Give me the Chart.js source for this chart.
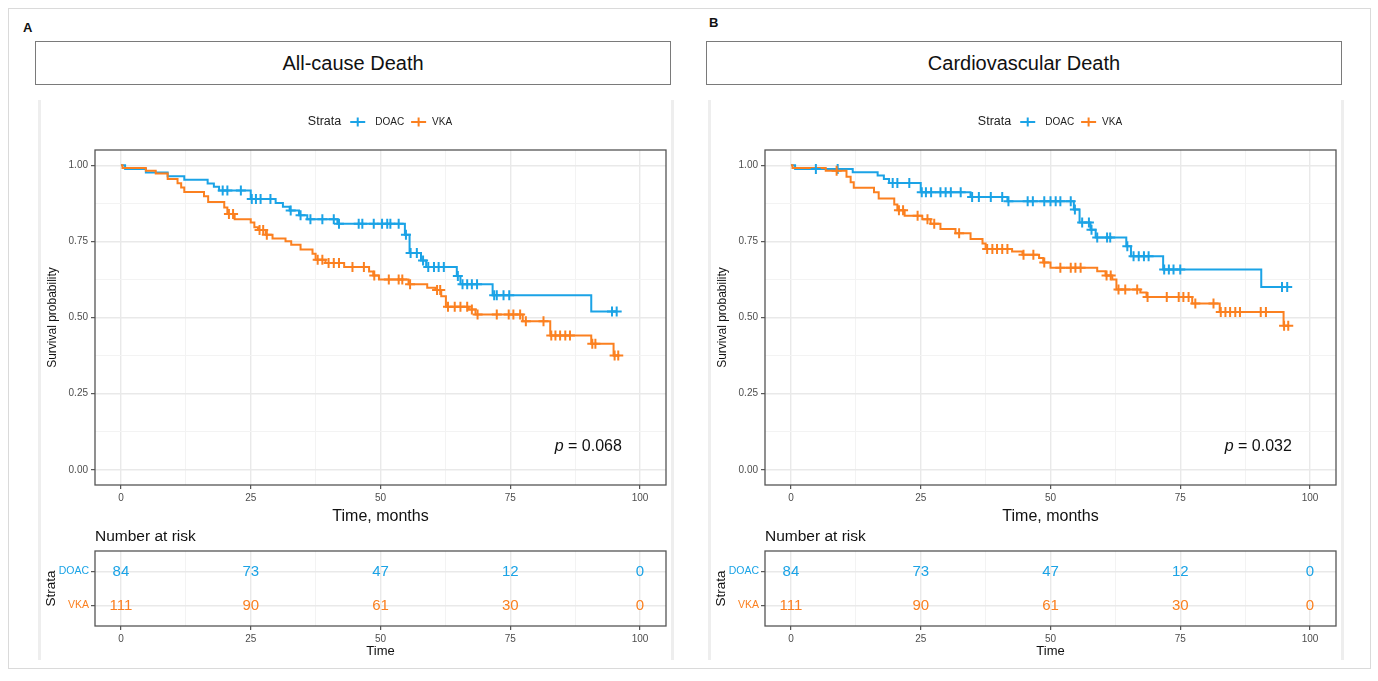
<!DOCTYPE html>
<meta charset="utf-8">
<title>Kaplan-Meier: DOAC vs VKA</title>
<style>
  body { margin: 0; width: 1378px; height: 681px; position: relative; background: #fff; overflow: hidden;
         font-family: "Liberation Sans", Arial, sans-serif }
  .frame { position: absolute; left: 8px; top: 8px; width: 1361px; height: 659px; border: 1px solid #dadada }
  .tag { position: absolute; font-weight: bold; font-size: 13px; color: #111 }
  .head { position: absolute; top: 41px; width: 634px; height: 42px; border: 1.5px solid #7a7a7a;
          font-size: 20px; line-height: 42px; text-align: center; color: #111 }
  .edge { position: absolute; top: 100px; height: 560px; width: 3px; background: #eeeeee }
  canvas { position: absolute }
</style>
<div class="frame"></div>
<div class="tag" style="left:23px;top:20px">A</div>
<div class="tag" style="left:709px;top:15px">B</div>
<div class="head" style="left:35px">All-cause Death</div>
<div class="head" style="left:706px">Cardiovascular Death</div>
<div class="edge" style="left:38px"></div>
<div class="edge" style="left:671px"></div>
<div class="edge" style="left:708px"></div>
<div class="edge" style="left:1341px"></div>
<canvas id="kmA" width="640" height="430" style="left:30px;top:100px"></canvas>
<canvas id="riskA" width="640" height="145" style="left:30px;top:525px"></canvas>
<canvas id="kmB" width="640" height="430" style="left:700px;top:100px"></canvas>
<canvas id="riskB" width="640" height="145" style="left:700px;top:525px"></canvas>
<script src="https://cdn.jsdelivr.net/npm/chart.js@4"></script>
<script>
  const xTicks = [0, 12.5, 25, 37.5, 50, 62.5, 75, 87.5, 100]
  const yTicks = [0, 0.125, 0.25, 0.375, 0.5, 0.625, 0.75, 0.875, 1]
  const strata = ["DOAC", "VKA"]

  // All-cause death: event times (months) -> survival after the drop, censor times
  const acDoacTime = [0.8, 4.8, 9.0, 12.2, 16.7, 17.9, 18.9, 25.0, 29.8, 31.2, 32.5, 34.3, 35.9, 41.7, 54.7, 55.6, 57.8, 58.8, 64.7, 65.4, 71.6, 90.6]
  const acDoacSurv = [0.988, 0.976, 0.964, 0.952, 0.940, 0.929, 0.917, 0.889, 0.876, 0.864, 0.851, 0.836, 0.823, 0.808, 0.772, 0.712, 0.687, 0.666, 0.636, 0.609, 0.573, 0.520]
  const acDoacCens = [19.6, 20.5, 23.1, 25.2, 26.0, 26.9, 28.8, 32.7, 34.6, 36.5, 38.8, 41.0, 42.0, 45.8, 46.5, 48.7, 50.3, 51.3, 51.9, 53.5, 54.9, 55.8, 57.0, 58.2, 59.2, 60.3, 61.2, 62.2, 64.9, 65.8, 66.7, 67.6, 68.6, 71.9, 72.4, 73.7, 74.8, 94.6, 95.5]

  const acVkaTime = [0.3, 4.8, 6.7, 9.0, 10.9, 11.6, 12.2, 16.0, 16.8, 19.9, 20.5, 21.9, 25.0, 25.7, 26.4, 27.9, 29.2, 31.7, 32.8, 34.6, 36.9, 37.5, 39.4, 43.0, 47.8, 48.6, 49.7, 55.4, 59.0, 60.6, 61.7, 62.6, 67.0, 68.3, 77.4, 82.7, 90.6, 94.9]
  const acVkaSurv = [0.991, 0.982, 0.973, 0.955, 0.941, 0.927, 0.912, 0.898, 0.879, 0.861, 0.840, 0.823, 0.812, 0.796, 0.787, 0.772, 0.759, 0.750, 0.739, 0.723, 0.709, 0.690, 0.679, 0.666, 0.651, 0.638, 0.625, 0.609, 0.598, 0.590, 0.570, 0.535, 0.526, 0.510, 0.488, 0.441, 0.414, 0.375]
  const acVkaCens = [20.8, 21.6, 26.7, 27.4, 28.1, 37.9, 38.8, 40.0, 41.0, 42.0, 44.6, 46.8, 48.8, 51.6, 53.5, 54.2, 55.7, 60.9, 61.5, 63.0, 64.3, 65.4, 66.7, 67.6, 68.7, 72.4, 74.7, 75.6, 76.9, 78.0, 81.4, 82.9, 83.7, 84.6, 85.6, 86.5, 90.8, 91.4, 95.1, 95.8]

  // Cardiovascular death
  const cvDoacTime = [0.8, 11.9, 16.7, 17.9, 18.9, 25.0, 34.6, 41.7, 54.5, 55.6, 57.7, 58.7, 64.6, 65.5, 71.7, 90.6]
  const cvDoacSurv = [0.988, 0.977, 0.966, 0.955, 0.942, 0.911, 0.896, 0.882, 0.855, 0.812, 0.788, 0.763, 0.734, 0.701, 0.658, 0.600]
  const cvDoacCens = [4.8, 9.0, 19.6, 20.5, 22.8, 25.2, 26.0, 27.0, 28.8, 29.8, 30.8, 32.7, 34.9, 36.2, 38.5, 40.7, 41.9, 45.6, 46.6, 48.8, 50.0, 51.0, 51.9, 53.9, 54.7, 56.1, 57.4, 57.9, 59.0, 60.9, 61.5, 64.8, 66.0, 67.0, 68.0, 68.9, 71.9, 72.8, 73.7, 75.0, 94.6, 95.6]

  const cvVkaTime = [0.3, 6.7, 10.7, 11.5, 12.1, 16.0, 16.9, 19.9, 20.5, 21.9, 25.3, 26.9, 28.8, 31.7, 34.6, 36.9, 37.5, 42.6, 44.6, 47.8, 48.6, 50.0, 59.0, 60.6, 61.9, 62.7, 67.3, 68.5, 77.3, 82.6, 94.9]
  const cvVkaSurv = [0.991, 0.982, 0.962, 0.944, 0.926, 0.911, 0.891, 0.871, 0.852, 0.834, 0.823, 0.808, 0.791, 0.777, 0.758, 0.743, 0.725, 0.717, 0.706, 0.695, 0.681, 0.663, 0.652, 0.638, 0.625, 0.592, 0.582, 0.567, 0.546, 0.518, 0.473]
  const cvVkaCens = [8.8, 20.8, 21.6, 24.4, 26.3, 27.6, 32.4, 37.8, 38.8, 39.7, 40.7, 41.7, 44.8, 46.7, 48.8, 51.9, 53.9, 54.8, 55.8, 60.8, 61.6, 63.1, 64.4, 66.7, 68.7, 72.4, 74.7, 75.6, 76.6, 77.9, 81.4, 82.8, 83.7, 84.6, 85.6, 86.5, 90.5, 91.5, 95.0, 95.8]

  // Number at risk (same in both panels)
  const riskTimes = [0, 25, 50, 75, 100]
  const riskDoac = [84, 73, 47, 12, 0]
  const riskVka = [111, 90, 61, 30, 0]

  const pValues = ["0.068", "0.032"]

  const colors = ["#1ba3e6", "#fb8020"]
  const FONT = "'Liberation Sans', Arial, sans-serif"
  Chart.defaults.font.family = FONT
  Chart.defaults.color = "#4d4d4d"

  const isMajorX = v => v % 25 == 0
  const isMajorY = v => (v * 4) % 1 == 0

  function steps(time, surv, cens) {
    const pts = [{ x: 0, y: 1 }]
    time.forEach((t, i) => pts.push({ x: t, y: surv[i] }))
    pts.push({ x: Math.max(...cens, ...time), y: surv[surv.length - 1] })
    return pts
  }
  function survAt(time, surv, t) {
    let s = 1
    time.forEach((u, i) => { if (u <= t) s = surv[i] })
    return s
  }

  const grid = major => ({
    color: c => c.tick && major(c.tick.value) ? "#e9e9e9" : "#f3f3f3",
    lineWidth: c => c.tick && major(c.tick.value) ? 1.4 : 1,
    tickColor: c => c.tick && major(c.tick.value) ? "#333" : "rgba(0,0,0,0)",
    tickWidth: 1,
    tickLength: 4,
  })

  const xScale = (h, title, tsize, tpad) => ({
    type: "linear", min: -5, max: 105,
    afterBuildTicks: s => { s.ticks = xTicks.map(v => ({ value: v })) },
    afterFit: s => { s.height = h },
    border: { display: false },
    grid: grid(isMajorX),
    ticks: { padding: 3, maxRotation: 0, autoSkip: false, font: { size: 10 },
             callback: v => isMajorX(v) ? String(v) : "" },
    title: { display: true, text: title, color: "#111", font: { size: tsize }, padding: { top: 0, bottom: tpad } },
  })

  const boxPlugin = {
    id: "box",
    afterDraw(chart) {
      const { ctx, chartArea: a } = chart
      ctx.save()
      ctx.strokeStyle = "#555"
      ctx.lineWidth = 1.3
      ctx.strokeRect(a.left, a.top, a.right - a.left, a.bottom - a.top)
      ctx.restore()
    },
  }

  const legendPlugin = {
    id: "strataKey",
    afterDraw(chart) {
      const { ctx, chartArea: a } = chart
      ctx.save()
      ctx.textBaseline = "middle"
      ctx.font = "12.5px " + FONT
      const wt = ctx.measureText("Strata").width
      ctx.font = "10px " + FONT
      const w = strata.map(s => ctx.measureText(s).width)
      const total = wt + 9 + 15 + 10 + w[0] + 7 + 16 + 6 + w[1]
      let x = (a.left + a.right) / 2 - total / 2
      const y = 22
      ctx.fillStyle = "#222"
      ctx.font = "12.5px " + FONT
      ctx.fillText("Strata", x, y)
      x += wt + 9
      strata.forEach((s, i) => {
        ctx.strokeStyle = colors[i]
        ctx.lineWidth = 2
        ctx.beginPath()
        ctx.moveTo(x, y); ctx.lineTo(x + 15, y)
        ctx.moveTo(x + 7.5, y - 4.5); ctx.lineTo(x + 7.5, y + 4.5)
        ctx.stroke()
        x += 15 + (i == 0 ? 10 : 6)
        ctx.fillStyle = "#222"
        ctx.font = "10px " + FONT
        ctx.fillText(s, x, y)
        x += w[i] + 7
      })
      ctx.restore()
    },
  }

  const pPlugin = {
    id: "pText",
    afterDraw(chart, args, opts) {
      const { ctx, scales: { x, y } } = chart
      ctx.save()
      ctx.textBaseline = "middle"
      ctx.fillStyle = "#111"
      ctx.font = "16px " + FONT
      const rest = " = " + opts.value
      const wr = ctx.measureText(rest).width
      const xr = x.getPixelForValue(96.5)
      const yy = y.getPixelForValue(0.077)
      ctx.textAlign = "left"
      ctx.fillText(rest, xr - wr, yy)
      ctx.font = "italic 16px " + FONT
      ctx.textAlign = "right"
      ctx.fillText("p", xr - wr, yy)
      ctx.restore()
    },
  }

  function kmChart(id, series, p) {
    const datasets = []
    series.forEach((s, i) => {
      datasets.push({
        label: strata[i] + " censored",
        data: s.cens.map(t => ({ x: t, y: survAt(s.time, s.surv, t) })),
        showLine: false, pointStyle: "cross", pointRadius: 5, pointHoverRadius: 5,
        borderColor: colors[i], borderWidth: 2, order: 1 - i,
      })
      datasets.push({
        label: strata[i],
        data: steps(s.time, s.surv, s.cens),
        stepped: true, borderColor: colors[i], borderWidth: 2, pointRadius: 0, fill: false, order: 3 - i,
      })
    })
    return new Chart(document.getElementById(id), {
      type: "line",
      data: { datasets },
      options: {
        responsive: false, animation: false, events: [],
        layout: { autoPadding: false, padding: { top: 50, right: 4, left: 0, bottom: 0 } },
        plugins: { legend: { display: false }, tooltip: { enabled: false }, pText: { value: p } },
        scales: {
          x: xScale(45, "Time, months", 16, 3.4),
          y: {
            type: "linear", min: -0.05, max: 1.05,
            afterBuildTicks: s => { s.ticks = yTicks.map(v => ({ value: v })) },
            afterFit: s => { s.width = 65 },
            border: { display: false },
            grid: grid(isMajorY),
            ticks: { padding: 3, font: { size: 10 },
                     callback: v => isMajorY(v) ? v.toFixed(2) : "" },
            title: { display: true, text: "Survival probability", color: "#111", font: { size: 12 },
                     padding: { top: 15.3, bottom: 0 } },
          },
        },
      },
      plugins: [boxPlugin, legendPlugin, pPlugin],
    })
  }

  const riskPlugin = {
    id: "riskText",
    afterDraw(chart) {
      const { ctx, chartArea: a } = chart
      ctx.save()
      ctx.textBaseline = "middle"
      ctx.fillStyle = "#111"
      ctx.font = "15.5px " + FONT
      ctx.fillText("Number at risk", a.left, 12)
      ctx.textAlign = "center"
      ctx.font = "15px " + FONT
      chart.data.datasets.forEach((ds, i) => {
        ctx.fillStyle = colors[i]
        chart.getDatasetMeta(i).data.forEach((pt, j) => ctx.fillText(String(ds.counts[j]), pt.x, pt.y))
      })
      ctx.restore()
    },
  }

  function riskChart(id) {
    const rows = [riskDoac, riskVka]
    return new Chart(document.getElementById(id), {
      type: "scatter",
      data: {
        datasets: rows.map((r, i) => ({
          label: strata[i], counts: r,
          data: riskTimes.map(t => ({ x: t, y: i + 1 })),
          pointRadius: 0, pointHoverRadius: 0,
        })),
      },
      options: {
        responsive: false, animation: false, events: [],
        layout: { autoPadding: false, padding: { top: 26, right: 4, left: 0, bottom: 0 } },
        plugins: { legend: { display: false }, tooltip: { enabled: false } },
        scales: {
          x: xScale(44, "Time", 13, 10.5),
          y: {
            type: "linear", min: 0.4, max: 2.6, reverse: true,
            afterBuildTicks: s => { s.ticks = [{ value: 1 }, { value: 2 }] },
            afterFit: s => { s.width = 65 },
            border: { display: false },
            grid: { color: "#e9e9e9", lineWidth: 1.4, tickColor: "#333", tickWidth: 1, tickLength: 4 },
            ticks: { padding: 2, font: { size: 10.5 }, color: c => colors[c.index],
                     callback: v => strata[v - 1] },
            title: { display: true, text: "Strata", color: "#111", font: { size: 13.5 },
                     padding: { top: 13.4, bottom: 0 } },
          },
        },
      },
      plugins: [boxPlugin, riskPlugin],
    })
  }

  kmChart("kmA", [
    { time: acDoacTime, surv: acDoacSurv, cens: acDoacCens },
    { time: acVkaTime, surv: acVkaSurv, cens: acVkaCens },
  ], pValues[0])
  riskChart("riskA")

  kmChart("kmB", [
    { time: cvDoacTime, surv: cvDoacSurv, cens: cvDoacCens },
    { time: cvVkaTime, surv: cvVkaSurv, cens: cvVkaCens },
  ], pValues[1])
  riskChart("riskB")
</script>
